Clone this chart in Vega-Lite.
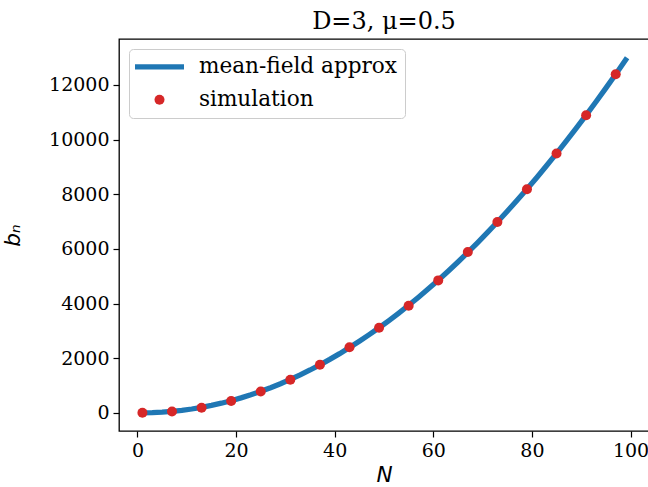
{
  "$schema": "https://vega.github.io/schema/vega-lite/v6.json",
  "autosize": "none",
  "padding": {"left": 119, "top": 39, "right": 0, "bottom": 56},
  "width": 530,
  "height": 392,
  "background": "white",
  "title": {
    "text": "D=3, μ=0.5",
    "font": "DejaVu Serif",
    "fontSize": 24,
    "fontWeight": "normal",
    "color": "black",
    "anchor": "middle",
    "baseline": "alphabetic",
    "offset": 8,
    "dy": 22
  },
  "config": {
    "view": {"stroke": "black", "strokeWidth": 1.3},
    "axis": {
      "grid": false,
      "domain": false,
      "ticks": true,
      "tickColor": "black",
      "tickWidth": 1.2,
      "tickSize": 6,
      "labelFont": "DejaVu Serif",
      "labelFontSize": 19,
      "labelColor": "black",
      "labelPadding": 4,
      "titleFont": "DejaVu Sans",
      "titleFontStyle": "italic",
      "titleFontWeight": "normal",
      "titleFontSize": 21.6,
      "titleColor": "black"
    }
  },
  "datasets": {
    "curve": [
      {"N": 1, "b": 0, "series": "mean-field approx"},
      {"N": 3, "b": 6, "series": "mean-field approx"},
      {"N": 5, "b": 23, "series": "mean-field approx"},
      {"N": 7, "b": 51, "series": "mean-field approx"},
      {"N": 9, "b": 90, "series": "mean-field approx"},
      {"N": 11, "b": 140, "series": "mean-field approx"},
      {"N": 13, "b": 200, "series": "mean-field approx"},
      {"N": 15, "b": 271, "series": "mean-field approx"},
      {"N": 17, "b": 352, "series": "mean-field approx"},
      {"N": 19, "b": 444, "series": "mean-field approx"},
      {"N": 21, "b": 547, "series": "mean-field approx"},
      {"N": 23, "b": 661, "series": "mean-field approx"},
      {"N": 25, "b": 786, "series": "mean-field approx"},
      {"N": 27, "b": 921, "series": "mean-field approx"},
      {"N": 29, "b": 1066, "series": "mean-field approx"},
      {"N": 31, "b": 1223, "series": "mean-field approx"},
      {"N": 33, "b": 1390, "series": "mean-field approx"},
      {"N": 35, "b": 1568, "series": "mean-field approx"},
      {"N": 37, "b": 1757, "series": "mean-field approx"},
      {"N": 39, "b": 1956, "series": "mean-field approx"},
      {"N": 41, "b": 2166, "series": "mean-field approx"},
      {"N": 43, "b": 2387, "series": "mean-field approx"},
      {"N": 45, "b": 2618, "series": "mean-field approx"},
      {"N": 47, "b": 2860, "series": "mean-field approx"},
      {"N": 49, "b": 3113, "series": "mean-field approx"},
      {"N": 51, "b": 3377, "series": "mean-field approx"},
      {"N": 53, "b": 3651, "series": "mean-field approx"},
      {"N": 55, "b": 3936, "series": "mean-field approx"},
      {"N": 57, "b": 4231, "series": "mean-field approx"},
      {"N": 59, "b": 4538, "series": "mean-field approx"},
      {"N": 61, "b": 4855, "series": "mean-field approx"},
      {"N": 63, "b": 5183, "series": "mean-field approx"},
      {"N": 65, "b": 5521, "series": "mean-field approx"},
      {"N": 67, "b": 5870, "series": "mean-field approx"},
      {"N": 69, "b": 6230, "series": "mean-field approx"},
      {"N": 71, "b": 6601, "series": "mean-field approx"},
      {"N": 73, "b": 6982, "series": "mean-field approx"},
      {"N": 75, "b": 7374, "series": "mean-field approx"},
      {"N": 77, "b": 7777, "series": "mean-field approx"},
      {"N": 79, "b": 8190, "series": "mean-field approx"},
      {"N": 81, "b": 8614, "series": "mean-field approx"},
      {"N": 83, "b": 9049, "series": "mean-field approx"},
      {"N": 85, "b": 9495, "series": "mean-field approx"},
      {"N": 87, "b": 9951, "series": "mean-field approx"},
      {"N": 89, "b": 10418, "series": "mean-field approx"},
      {"N": 91, "b": 10895, "series": "mean-field approx"},
      {"N": 93, "b": 11384, "series": "mean-field approx"},
      {"N": 95, "b": 11883, "series": "mean-field approx"},
      {"N": 97, "b": 12392, "series": "mean-field approx"},
      {"N": 99, "b": 12913, "series": "mean-field approx"}
    ],
    "sim": [
      {"N": 1, "b": 0, "series": "simulation"},
      {"N": 7, "b": 48, "series": "simulation"},
      {"N": 13, "b": 185, "series": "simulation"},
      {"N": 19, "b": 430, "series": "simulation"},
      {"N": 25, "b": 780, "series": "simulation"},
      {"N": 31, "b": 1209, "series": "simulation"},
      {"N": 37, "b": 1758, "series": "simulation"},
      {"N": 43, "b": 2403, "series": "simulation"},
      {"N": 49, "b": 3113, "series": "simulation"},
      {"N": 55, "b": 3920, "series": "simulation"},
      {"N": 61, "b": 4846, "series": "simulation"},
      {"N": 67, "b": 5883, "series": "simulation"},
      {"N": 73, "b": 6982, "series": "simulation"},
      {"N": 79, "b": 8179, "series": "simulation"},
      {"N": 85, "b": 9487, "series": "simulation"},
      {"N": 91, "b": 10890, "series": "simulation"},
      {"N": 97, "b": 12392, "series": "simulation"}
    ]
  },
  "encoding": {
    "x": {
      "field": "N",
      "type": "quantitative",
      "scale": {"domain": [-3.75, 103.75], "nice": false, "zero": false},
      "axis": {"values": [0, 20, 40, 60, 80, 100], "title": "N", "titlePadding": 4}
    },
    "y": {
      "field": "b",
      "type": "quantitative",
      "scale": {"domain": [-665, 13680], "nice": false, "zero": false},
      "axis": {"values": [0, 2000, 4000, 6000, 8000, 10000, 12000], "title": "bₙ", "titlePadding": 24, "format": "d"}
    },
    "color": {
      "field": "series",
      "type": "nominal",
      "scale": {"domain": ["mean-field approx", "simulation"], "range": ["#1f77b4", "#d62728"]},
      "legend": {
        "title": null,
        "orient": "top-left",
        "offset": 10,
        "padding": 7,
        "rowPadding": 10,
        "fillColor": "white",
        "strokeColor": "#cccccc",
        "cornerRadius": 4,
        "labelFont": "DejaVu Serif",
        "labelFontSize": 21.6,
        "labelColor": "black",
        "labelOffset": 41.3,
        "symbolSize": 100,
        "labelLimit": 400,
        "encode": {
          "symbols": {
            "update": {
              "shape": {"signal": "datum.value === 'simulation' ? 'circle' : 'M-4.9,0H4.9'"},
              "x": {"value": 23.5},
              "fill": {"signal": "datum.value === 'simulation' ? '#d62728' : 'transparent'"},
              "stroke": {"signal": "datum.value === 'simulation' ? 'transparent' : '#1f77b4'"},
              "strokeWidth": {"signal": "datum.value === 'simulation' ? 0 : 5.3"},
              "opacity": {"value": 1},
              "fillOpacity": {"value": 1},
              "strokeOpacity": {"value": 1}
            }
          }
        }
      }
    }
  },
  "layer": [
    {
      "data": {"name": "curve"},
      "mark": {"type": "line", "strokeWidth": 5.3, "strokeCap": "square", "clip": true}
    },
    {
      "data": {"name": "sim"},
      "mark": {"type": "point", "filled": true, "shape": "circle", "size": 100, "opacity": 1}
    }
  ]
}
